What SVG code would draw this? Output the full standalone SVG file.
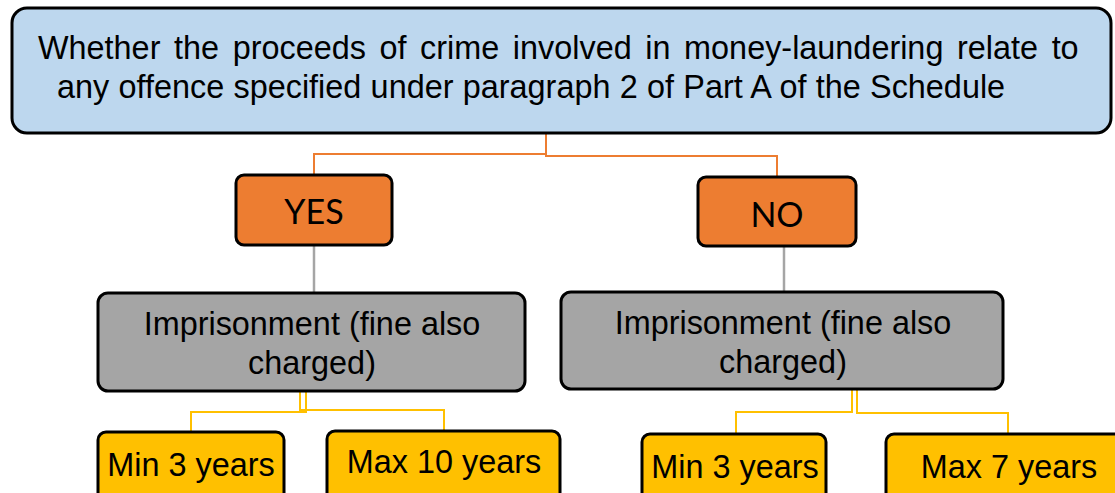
<svg xmlns="http://www.w3.org/2000/svg" width="1115" height="493" viewBox="0 0 1115 493">
  <style>
    .box { stroke: #000; stroke-width: 3; }
    .q { fill: #BDD7EE; }
    .yn { fill: #ED7D31; }
    .imp { fill: #A5A5A5; }
    .term { fill: #FFC000; }
    .t { font-family: "Liberation Sans", Arial, sans-serif; font-size: 32.4px; fill: #000; }
    .c { text-anchor: middle; }
    .cal { font-family: Lato, "Open Sans", sans-serif; font-size: 34px; fill: #000; text-anchor: middle; }
    .ln { fill: none; stroke-width: 2; }
    .orange { stroke: #ED7D31; }
    .grey { stroke: #A5A5A5; stroke-width: 2.5; }
    .gold { stroke: #FFC000; }
  </style>

  <!-- connectors -->
  <g id="connectors">
    <polyline class="ln orange" points="546,133 546,154 314,154 314,176"/>
    <polyline class="ln orange" points="546,133 546,156 777,156 777,178"/>
    <line class="ln grey" x1="314" y1="245" x2="314" y2="294"/>
    <line class="ln grey" x1="784" y1="246" x2="784" y2="293"/>
    <polyline class="ln gold" points="306,391 306,412 191,412 191,433"/>
    <polyline class="ln gold" points="300,391 300,410 444,410 444,432"/>
    <polyline class="ln gold" points="852,389 852,412 736,412 736,435"/>
    <polyline class="ln gold" points="857,389 857,413 1008,413 1008,435"/>
  </g>

  <!-- question -->
  <g id="question">
    <rect class="box q" x="12" y="8" width="1099" height="125" rx="15"/>
    <text class="t" x="38" y="59" word-spacing="4.6">Whether the proceeds of crime involved in money-laundering relate to</text>
    <text class="t" x="57" y="98" word-spacing="0.3">any offence specified under paragraph 2 of Part A of the Schedule</text>
  </g>

  <!-- answers -->
  <g id="yes">
    <rect class="box yn" x="236" y="175" width="156" height="70" rx="8"/>
    <text class="cal" x="314" y="224">YES</text>
  </g>
  <g id="no">
    <rect class="box yn" x="698" y="177" width="158" height="69" rx="8"/>
    <text class="cal" x="777" y="227">NO</text>
  </g>

  <!-- penalties -->
  <g id="imprisonment-yes">
    <rect class="box imp" x="98" y="293" width="427" height="98" rx="10"/>
    <text class="t c" x="312" y="335">Imprisonment (fine also</text>
    <text class="t c" x="312" y="374">charged)</text>
  </g>
  <g id="imprisonment-no">
    <rect class="box imp" x="561" y="292" width="442" height="97" rx="10"/>
    <text class="t c" x="783" y="334">Imprisonment (fine also</text>
    <text class="t c" x="783" y="373">charged)</text>
  </g>

  <!-- terms -->
  <g id="min-yes">
    <rect class="box term" x="98" y="432" width="186" height="70" rx="8"/>
    <text class="t c" x="191" y="476">Min 3 years</text>
  </g>
  <g id="max-yes">
    <rect class="box term" x="327" y="431" width="233" height="70" rx="8"/>
    <text class="t c" x="444" y="473">Max 10 years</text>
  </g>
  <g id="min-no">
    <rect class="box term" x="642" y="434" width="184" height="70" rx="8"/>
    <text class="t c" x="735" y="478">Min 3 years</text>
  </g>
  <g id="max-no">
    <rect class="box term" x="886" y="434" width="240" height="70" rx="8"/>
    <text class="t c" x="1009" y="478">Max 7 years</text>
  </g>
</svg>
